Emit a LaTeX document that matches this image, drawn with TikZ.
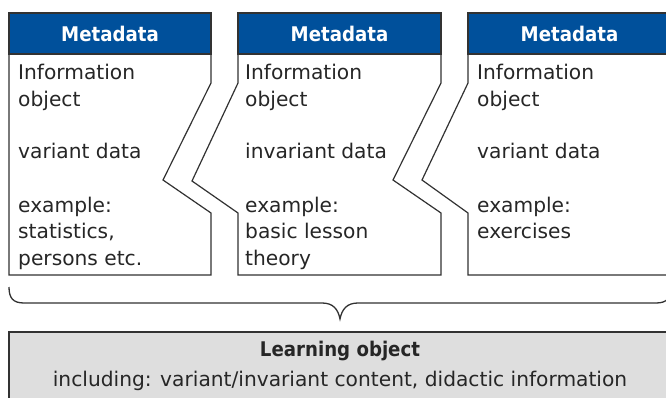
\documentclass[tikz,border=0pt]{standalone}
\usepackage{fontspec}
\setmainfont{DejaVu Sans}
\newfontfamily\condbold{DejaVu Sans Condensed Bold}
\definecolor{hdblue}{RGB}{0,80,155}
\definecolor{lofill}{RGB}{222,222,222}
\definecolor{edge}{RGB}{50,50,50}
\begin{document}
\begin{tikzpicture}[x=1pt,y=-1pt,
  boxline/.style={draw=edge,line width=1.2pt,line join=miter},
  header/.style={fill=hdblue,draw=edge,line width=1.2pt},
  hdtext/.style={text=white,anchor=base,inner sep=0pt,font=\condbold\fontsize{20.2}{24}\selectfont},
  bodytext/.style={text=black!85,anchor=base west,inner sep=0pt,font=\fontsize{20.2}{24}\selectfont},
  lotitle/.style={text=black!85,anchor=base,inner sep=0pt,font=\condbold\fontsize{20.2}{24}\selectfont},
  lotext/.style={text=black!85,anchor=base,inner sep=0pt,font=\fontsize{20.2}{24}\selectfont}]
\useasboundingbox (0,0) rectangle (666,398);
\clip (0,0) rectangle (666,398);
\fill[white] (0,0) rectangle (666,398);
% box 1
\draw[boxline] (9,13) -- (211,13) -- (211,83) -- (163,180) -- (211,213) -- (211,275) -- (9,275) -- cycle;
\draw[header] (9,13) rectangle (211,54);
% box 2
\draw[boxline] (238,13) -- (441,13) -- (441,83) -- (393,180) -- (441,213) -- (441,275) -- (238,275) -- (238,213) -- (192,181) -- (238,83) -- cycle;
\draw[header] (238,13) rectangle (441,54);
% box 3
\draw[boxline] (468,13) -- (690,13) -- (690,275) -- (468,275) -- (468,213) -- (422,180) -- (468,83) -- cycle;
\draw[header] (468,13) rectangle (690,54);
% headers
\node[hdtext] (h1) at (110,41.5) {Metadata};
\node[hdtext] (h2) at (339.5,41.5) {Metadata};
\node[hdtext] (h3) at (569.5,41.5) {Metadata};
% box 1 text
\node[bodytext] (a1) at (18,80) {Information};
\node[bodytext] (a2) at (18,106.5) {object};
\node[bodytext] (a3) at (18,159) {variant data};
\node[bodytext] (a4) at (18,212) {example:};
\node[bodytext] (a5) at (18,238.5) {statistics,};
\node[bodytext] (a6) at (18,265) {persons etc.};
% box 2 text
\node[bodytext] (b1) at (245,80) {Information};
\node[bodytext] (b2) at (245,106.5) {object};
\node[bodytext] (b3) at (245,159) {invariant data};
\node[bodytext] (b4) at (245,212) {example:};
\node[bodytext] (b5) at (245,238.5) {basic lesson};
\node[bodytext] (b6) at (245,265) {theory};
% box 3 text
\node[bodytext] (c1) at (477,80) {Information};
\node[bodytext] (c2) at (477,106.5) {object};
\node[bodytext] (c3) at (477,159) {variant data};
\node[bodytext] (c4) at (477,212) {example:};
\node[bodytext] (c5) at (477,238.5) {exercises};
% brace
\draw[boxline,line width=1.3pt] (9,287) .. controls (9,298) and (13,303) .. (24,303) -- (322,303)
  .. controls (333,303) and (338,309) .. (340,319) .. controls (342,309) and (347,303) .. (358,303)
  -- (656,303) .. controls (667,303) and (671,298) .. (671,287);
% learning object
\draw[boxline,fill=lofill] (9,332) rectangle (690,420);
\node[lotitle] (lo) at (340,356) {Learning object};
\node[lotext] (lo2) at (340,386.5) {including: variant/invariant content, didactic information};
\end{tikzpicture}
\end{document}
